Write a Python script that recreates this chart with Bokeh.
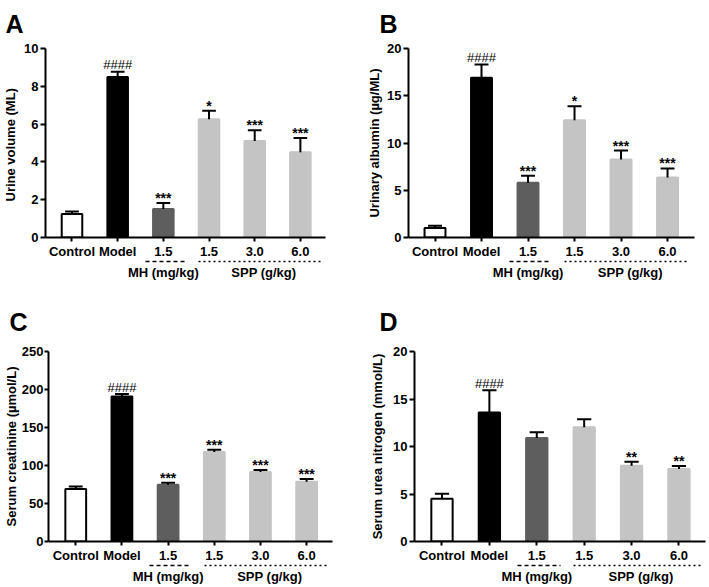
from bokeh.plotting import figure
from bokeh.models import LinearAxis, FixedTicker, Range1d
from bokeh.layouts import column, row
from bokeh.core.properties import value
from bokeh.embed import file_html
from bokeh.resources import INLINE

# ---------------- data ----------------
groups = ["Control", "Model", "1.5", "1.5", "3.0", "6.0"]
group_labels = ["MH (mg/kg)", "SPP (g/kg)"]
group_centers = [2, 4.2]
bar_colors = ["#ffffff", "#000000", "#5e5e5e", "#c4c4c4", "#c4c4c4", "#c4c4c4"]
bar_lines = ["#000000", "#000000", "#5e5e5e", "#c4c4c4", "#c4c4c4", "#c4c4c4"]

urine_mean = [1.25, 8.49, 1.51, 6.26, 5.10, 4.51]
urine_sem = [0.13, 0.28, 0.31, 0.44, 0.58, 0.75]
urine_sig = ["", "####", "***", "*", "***", "***"]
urine_ticks = [0, 2, 4, 6, 8, 10]

alb_mean = [1.00, 16.90, 5.80, 12.40, 8.25, 6.36]
alb_sem = [0.25, 1.40, 0.74, 1.50, 0.95, 0.95]
alb_sig = ["", "####", "***", "*", "***", "***"]
alb_ticks = [0, 5, 10, 15, 20]

crea_mean = [69.0, 190.7, 74.6, 117.8, 91.6, 78.5]
crea_sem = [3.4, 3.3, 2.6, 3.0, 2.6, 3.9]
crea_sig = ["", "####", "***", "***", "***", "***"]
crea_ticks = [0, 50, 100, 150, 200, 250]

bun_mean = [4.49, 13.59, 10.90, 12.02, 7.98, 7.63]
bun_sem = [0.53, 2.33, 0.60, 0.84, 0.42, 0.31]
bun_sig = ["", "####", "", "", "**", "**"]
bun_ticks = [0, 5, 10, 15, 20]

FONT = "Liberation Sans"


def panel(letter, ylabel, mean, sem, sig, yticks, width, height,
          mb_left, mb_right, mb_top, mb_bottom, xr,
          tick_out, lab_standoff, ax_standoff, t_offset, t_standoff):
    xs = list(range(len(groups)))
    upper = [m + s for m, s in zip(mean, sem)]
    p = figure(width=width, height=height, output_backend="svg", toolbar_location=None,
               x_range=Range1d(xr[0], xr[1]), y_range=Range1d(yticks[0], yticks[-1]),
               x_axis_location=None, y_axis_location=None,
               min_border_left=mb_left, min_border_right=mb_right,
               min_border_top=mb_top, min_border_bottom=mb_bottom)
    p.outline_line_color = None
    p.background_fill_color = "white"
    p.border_fill_color = "white"
    p.grid.visible = False

    # panel letter
    p.title.text = letter
    p.title.align = "left"
    p.title.vertical_align = "top"
    p.title.offset = t_offset
    p.title.standoff = t_standoff
    p.title.text_font = FONT
    p.title.text_font_style = "bold"
    p.title.text_font_size = "25px"
    p.title.text_color = "black"

    # bars
    p.vbar(x=xs, top=mean, bottom=0, width=0.45, fill_color=bar_colors,
           line_color=bar_lines, line_width=2)
    # error bars (upper only)
    p.segment(x0=xs, y0=mean, x1=xs, y1=upper, line_color="black", line_width=2)
    p.segment(x0=[x - 0.15 for x in xs], y0=upper, x1=[x + 0.15 for x in xs], y1=upper,
              line_color="black", line_width=2)
    # significance marks
    for i, s in enumerate(sig):
        if not s:
            continue
        is_hash = "#" in s
        p.text(x=[xs[i]], y=[upper[i]], text=[s], text_align="center",
               text_baseline="alphabetic", y_offset=(-7 if is_hash else -5),
               text_font=value(FONT), text_font_style=("normal" if is_hash else "bold"),
               text_font_size=("13px" if is_hash else "14px"), text_color="black")

    # y axis
    ya = LinearAxis(ticker=FixedTicker(ticks=yticks, minor_ticks=[]), axis_label=ylabel)
    ya.axis_line_width = 2
    ya.axis_line_color = "black"
    ya.major_tick_line_width = 2
    ya.major_tick_out = tick_out
    ya.major_tick_in = 0
    ya.minor_tick_line_color = None
    ya.major_label_standoff = lab_standoff
    ya.major_label_text_font = FONT
    ya.major_label_text_font_style = "bold"
    ya.major_label_text_font_size = "13px"
    ya.major_label_text_color = "black"
    ya.axis_label_standoff = ax_standoff
    ya.axis_label_text_font = FONT
    ya.axis_label_text_font_style = "bold"
    ya.axis_label_text_font_size = "13px"
    ya.axis_label_text_color = "black"
    p.add_layout(ya, "left")

    # x axis with group names
    xa = LinearAxis(ticker=FixedTicker(ticks=xs, minor_ticks=[]),
                    major_label_overrides={x: g for x, g in zip(xs, groups)})
    xa.axis_line_width = 2
    xa.axis_line_color = "black"
    xa.major_tick_line_width = 2
    xa.major_tick_out = 4
    xa.major_tick_in = 0
    xa.minor_tick_line_color = None
    xa.major_label_standoff = 2
    xa.major_label_text_font = FONT
    xa.major_label_text_font_style = "bold"
    xa.major_label_text_font_size = "13px"
    xa.major_label_text_color = "black"
    p.add_layout(xa, "below")

    # dashed underline for MH group
    da = LinearAxis(ticker=FixedTicker(ticks=[], minor_ticks=[]), bounds=(1.6, 2.5))
    da.axis_line_dash = "4 3"
    da.axis_line_width = 1.5
    da.major_tick_out = 0
    da.major_tick_in = 0
    da.major_label_standoff = 0
    da.major_label_text_font_size = "0px"
    da.minor_tick_line_color = None
    da.major_tick_line_color = None
    p.add_layout(da, "below")

    # dotted underline for SPP group
    ta = LinearAxis(ticker=FixedTicker(ticks=[], minor_ticks=[]), bounds=(2.78, 5.46))
    ta.axis_line_dash = "2 3"
    ta.axis_line_width = 1.5
    ta.major_tick_out = 0
    ta.major_tick_in = 0
    ta.major_label_standoff = 0
    ta.major_label_text_font_size = "0px"
    ta.minor_tick_line_color = None
    ta.major_tick_line_color = None
    p.add_layout(ta, "below")

    # treatment group labels
    ga = LinearAxis(ticker=FixedTicker(ticks=group_centers, minor_ticks=[]),
                    major_label_overrides={c: g for c, g in zip(group_centers, group_labels)})
    ga.axis_line_color = None
    ga.major_tick_line_color = None
    ga.minor_tick_line_color = None
    ga.major_tick_out = 0
    ga.major_tick_in = 0
    ga.major_label_standoff = 3
    ga.major_label_text_font = FONT
    ga.major_label_text_font_style = "bold"
    ga.major_label_text_font_size = "13px"
    ga.major_label_text_color = "black"
    p.add_layout(ga, "below")
    return p


pA = panel("A", "Urine volume  (ML)", urine_mean, urine_sem, urine_sig, urine_ticks,
           354, 293, 40, 29, 47, 56, (-0.58, 5.55), 5, 2, 3, -40, 17)
pB = panel("B", "Urinary albumin (µg/ML)", alb_mean, alb_sem, alb_sig, alb_ticks,
           355, 293, 54, 15, 48, 56, (-0.57, 5.58), 5, 2, 2, -29, 17)
pC = panel("C", "Serum creatinine (µmol/L)", crea_mean, crea_sem, crea_sig, crea_ticks,
           354, 294, 41, 22, 58, 46, (-0.59, 5.56), 4, 1, 0, -39, 27)
pD = panel("D", "Serum urea nitrogen (mmol/L)", bun_mean, bun_sem, bun_sig, bun_ticks,
           355, 294, 60, 4, 58, 46, (-0.58, 5.56), 5, 2, 5, -35, 27)

layout = column(row(pA, pB), row(pC, pD))
open("out.html", "w").write(file_html(layout, INLINE))
